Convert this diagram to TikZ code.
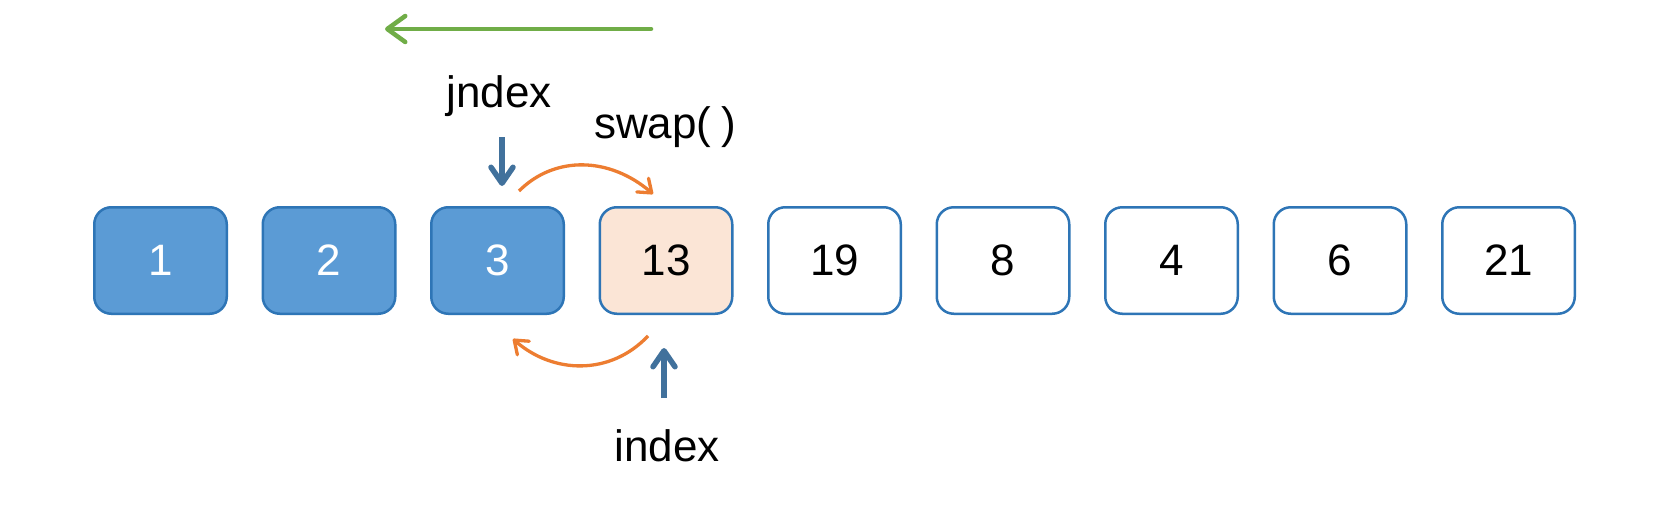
\documentclass[tikz,border=0pt]{standalone}
\usepackage{fontspec}
\setmainfont{Liberation Sans}
\usetikzlibrary{arrows.meta}
\definecolor{boxblue}{HTML}{5B9BD5}
\definecolor{edgeblue}{HTML}{2E75B6}
\definecolor{arrblue}{HTML}{41719C}
\definecolor{peach}{HTML}{FBE5D6}
\definecolor{grn}{HTML}{70AD47}
\definecolor{orng}{HTML}{ED7D31}
\begin{document}
\begin{tikzpicture}[x=1pt,y=-1pt,
  cell/.style={draw=edgeblue,line width=2.5pt,rounded corners=17pt,
    minimum width=132.5pt,minimum height=106.5pt,inner sep=0pt,
    font=\fontsize{44}{44}\selectfont},
  done/.style={cell,fill=boxblue,text=white},
  cur/.style={cell,fill=peach,text=black},
  todo/.style={cell,fill=white,text=black},
  lbl/.style={anchor=base,inner sep=0pt,font=\fontsize{44}{44}\selectfont},
  garrow/.style={draw=grn,line width=4.5pt,line cap=round,
    -{Straight Barb[length=18pt,width=26pt,line cap=round,line join=round]}},
  barrow/.style={draw=arrblue,line width=5.5pt,
    -{Straight Barb[length=16pt,width=22pt,line cap=round,line join=round]}},
  oarrow/.style={draw=orng,line width=3.3pt,
    -{Straight Barb[length=12pt,width=18pt,line cap=round,line join=round]}}]
\fill[white] (0,0) rectangle (1656,506);
\useasboundingbox (0,0) rectangle (1656,506);
% cells
\node[done] (c1) at (160.5,260.5) {1};
\node[done] (c2) at (329,260.5) {2};
\node[done] (c3) at (497.5,260.5) {3};
\node[cur]  (c4) at (666,260.5) {13};
\node[todo] (c5) at (834.5,260.5) {19};
\node[todo] (c6) at (1003,260.5) {8};
\node[todo] (c7) at (1171.5,260.5) {4};
\node[todo] (c8) at (1340,260.5) {6};
\node[todo] (c9) at (1508.5,260.5) {21};
% labels
\node[lbl] (jn) at (499,107) {jndex};
\node[lbl] (sw) at (665,138) {swap(\hspace{0.22em})};
\node[lbl] (ix) at (667,461) {index};
% arrow end points
\coordinate (gS) at (651,29);
\coordinate (gE) at (385,29);
\coordinate (jS) at (502,137);
\coordinate (jE) at (502,186);
\coordinate (iS) at (664,398);
\coordinate (iE) at (664,348);
\coordinate (tS) at (519,191);
\coordinate (tE) at (653,194);
\coordinate (bS) at (648,336);
\coordinate (bE) at (513,339);
% connectors
\draw[garrow] (gS) -- (gE);
\draw[barrow] (jS) -- (jE);
\draw[barrow] (iS) -- (iE);
\draw[oarrow] (tS) .. controls (555,155) and (610,157) .. (tE);
\draw[oarrow] (bS) .. controls (610,376) and (553,374) .. (bE);
\end{tikzpicture}
\end{document}
